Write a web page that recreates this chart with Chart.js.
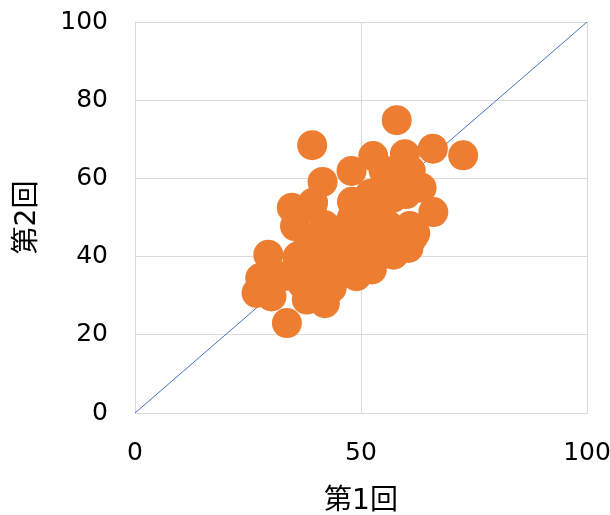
<!DOCTYPE html>
<html>
<head>
<meta charset="utf-8">
<script src="https://cdn.jsdelivr.net/npm/chart.js@4"></script>
<style>
  html, body { margin: 0; padding: 0; background: #fff; }
  #wrap { width: 610px; height: 515px; }
</style>
</head>
<body>
<div id="wrap"><canvas id="chart"></canvas></div>
<script>
// scores, first exam (x) and second exam (y)
const firstScores = [
  57.9, 39.2, 72.6, 65.9, 41.5, 34.7, 66.0, 33.6, 26.9, 29.5,
  42.0, 52.4, 60.5, 47.9, 52.7, 59.7, 63.4, 27.7, 35.4, 39.1,
  30.2, 38.0, 43.5, 44.6, 57.2, 60.8, 36, 38, 40, 42,
  44, 45, 46, 47, 48, 49, 50, 50, 51, 52,
  53, 54, 55, 56, 57, 56, 58, 60, 61, 62,
  55, 48, 42, 40, 33, 36, 37, 39, 41, 43,
  47, 49, 53, 61.5, 39.4
];
const secondScores = [
  74.9, 68.5, 65.9, 67.6, 59.1, 52.5, 51.4, 23.0, 30.7, 40.5,
  28.1, 36.7, 42.2, 61.9, 65.7, 66.2, 57.6, 34.5, 47.8, 52.5,
  29.8, 29.0, 32.0, 35.0, 40.5, 47.8, 38, 42, 36, 40,
  44, 38, 47, 42, 50, 45, 53, 40, 48, 56,
  44, 52, 58, 47, 55, 48, 60, 56, 62, 46,
  62, 54, 48, 45, 35, 40, 33, 31, 35, 37,
  37, 35, 40, 45, 53.8
];
// reference diagonal y = x
const diagX = [0, 100];
const diagY = [0, 100];

const xTickStep = 50;
const yTickStep = 20;

const font = "'DejaVu Sans', 'Noto Sans CJK JP', sans-serif";

const points = firstScores.map((x, i) => ({ x: x, y: secondScores[i] }));
const diagonal = diagX.map((x, i) => ({ x: x, y: diagY[i] }));

// drop the label overflow padding so the layout padding alone sets the plot box
function noOverflow(s) {
  s.paddingTop = 0;
  s.paddingBottom = 0;
  s.paddingLeft = 0;
  s.paddingRight = 0;
}

new Chart(document.getElementById('chart'), {
  type: 'scatter',
  data: {
    datasets: [
      {
        label: '得点',
        data: points,
        backgroundColor: '#ED7D31',
        borderColor: '#ED7D31',
        borderWidth: 0,
        pointRadius: 15,
        pointHoverRadius: 15,
        order: 1
      },
      {
        label: 'y=x',
        data: diagonal,
        showLine: true,
        borderColor: '#4472C4',
        borderWidth: 1,
        pointRadius: 0,
        order: 2
      }
    ]
  },
  options: {
    responsive: true,
    maintainAspectRatio: false,
    animation: false,
    layout: { padding: { top: 22, right: 23, left: 0, bottom: 0 } },
    plugins: {
      legend: { display: false },
      tooltip: { enabled: false }
    },
    scales: {
      x: {
        type: 'linear',
        min: 0,
        max: 100,
        ticks: { stepSize: xTickStep, color: '#000', font: { family: font, size: 25 }, padding: 25 },
        grid: { color: '#d9d9d9', lineWidth: 1, drawTicks: false },
        border: { color: '#d9d9d9' },
        title: { display: true, text: '第1回', color: '#000', font: { family: font, size: 28 }, padding: { top: 0, bottom: -4 } },
        afterFit: s => { s.height = 102; noOverflow(s); }
      },
      y: {
        type: 'linear',
        min: 0,
        max: 100,
        ticks: { stepSize: yTickStep, color: '#000', font: { family: font, size: 25 }, padding: 27 },
        grid: { color: '#d9d9d9', lineWidth: 1, drawTicks: false },
        border: { color: '#d9d9d9' },
        title: { display: true, text: '第2回', color: '#000', font: { family: font, size: 28 }, padding: { top: 11, bottom: 0 } },
        afterFit: s => { s.width = 135; noOverflow(s); }
      }
    }
  }
});
</script>
</body>
</html>
